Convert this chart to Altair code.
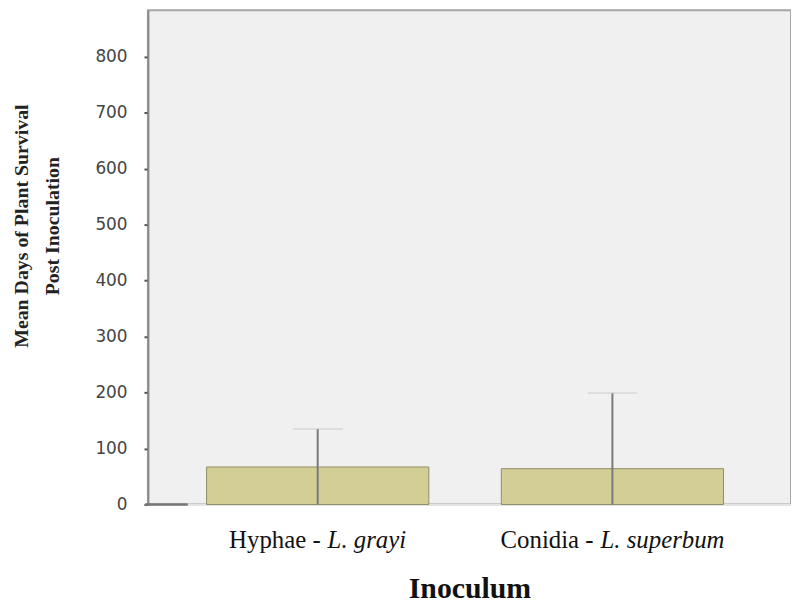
import altair as alt
import pandas as pd

categories = ["Hyphae - L. grayi", "Conidia - L. superbum"]
prefixes = ["Hyphae -", "Conidia -"]
species = ["L. grayi", "L. superbum"]
means = [67, 64]
upper = [135, 199]
y_ticks = [0, 100, 200, 300, 400, 500, 600, 700, 800]

df = pd.DataFrame({"cat": categories, "prefix": prefixes, "species": species,
                   "mean": means, "upper": upper})

H = 498
xscale = alt.Scale(domain=categories, paddingInner=0.246, paddingOuter=0.214, align=0.465)
yscale = alt.Scale(domain=[0, 883], nice=False, zero=True)

x_enc = alt.X("cat:N", scale=xscale, sort=categories,
              axis=alt.Axis(labels=False, ticks=False, domain=True,
                            domainColor="#e4e4e4", domainWidth=2,
                            title="Inoculum", titleFont="Liberation Serif",
                            titleFontSize=30, titleFontWeight="bold",
                            titleColor="#111", titlePadding=70))
y_enc = alt.Y("mean:Q", scale=yscale,
              axis=alt.Axis(values=y_ticks,
                            title=["Mean Days of Plant Survival", "Post Inoculation"],
                            titleFont="Liberation Serif", titleFontSize=20,
                            titleFontWeight="bold", titleColor="#222",
                            titleLineHeight=31, titleAngle=270, titleAlign="center",
                            titleBaseline="top", titleX=-137, titleY=217,
                            labelFont="DejaVu Sans", labelFontSize=17, labelColor="#444",
                            labelPadding=17, tickSize=4, tickColor="#555", tickWidth=2,
                            domainColor="#8a8a8a", domainWidth=2, grid=False))

base = alt.Chart(df)

bars = base.mark_bar(color="#d3ce95", stroke="#8f8c6a", strokeWidth=1).encode(x=x_enc, y=y_enc)

err = base.mark_rule(color="#7a7a7a", strokeWidth=2).encode(
    x=alt.X("cat:N", scale=xscale, sort=categories),
    y=alt.Y("upper:Q", scale=yscale), y2=alt.datum(0))

caps = base.mark_tick(color="#bdbdbd", thickness=1, size=50).encode(
    x=alt.X("cat:N", scale=xscale, sort=categories),
    y=alt.Y("upper:Q", scale=yscale))

stub = base.mark_rule(color="#777777", strokeWidth=2).encode(
    x=alt.value(-3), x2=alt.value(40), y=alt.value(H))

label_layers = []
offsets = {categories[0]: (3, 10), categories[1]: (-19, -12)}
for cat in categories:
    pdx, sdx = offsets[cat]
    sub = base.transform_filter(alt.datum.cat == cat)
    label_layers.append(sub.mark_text(font="Liberation Serif", fontSize=25, color="#111",
                                      align="right", baseline="middle", dx=pdx, dy=36).encode(
        x=alt.X("cat:N", scale=xscale, sort=categories), y=alt.value(H), text="prefix:N"))
    label_layers.append(sub.mark_text(font="Liberation Serif", fontSize=25, color="#111",
                                      fontStyle="italic", align="left", baseline="middle",
                                      dx=sdx, dy=36).encode(
        x=alt.X("cat:N", scale=xscale, sort=categories), y=alt.value(H), text="species:N"))

chart = alt.layer(bars, err, caps, stub, *label_layers).properties(
    width=648, height=H,
    padding={"left": 4, "top": 0, "right": 0, "bottom": 0},
).configure_view(stroke="#a6a6a6", strokeWidth=2, fill="#f0f0f0")

chart.save("out.html", embed_options={"renderer": "svg", "actions": False})
